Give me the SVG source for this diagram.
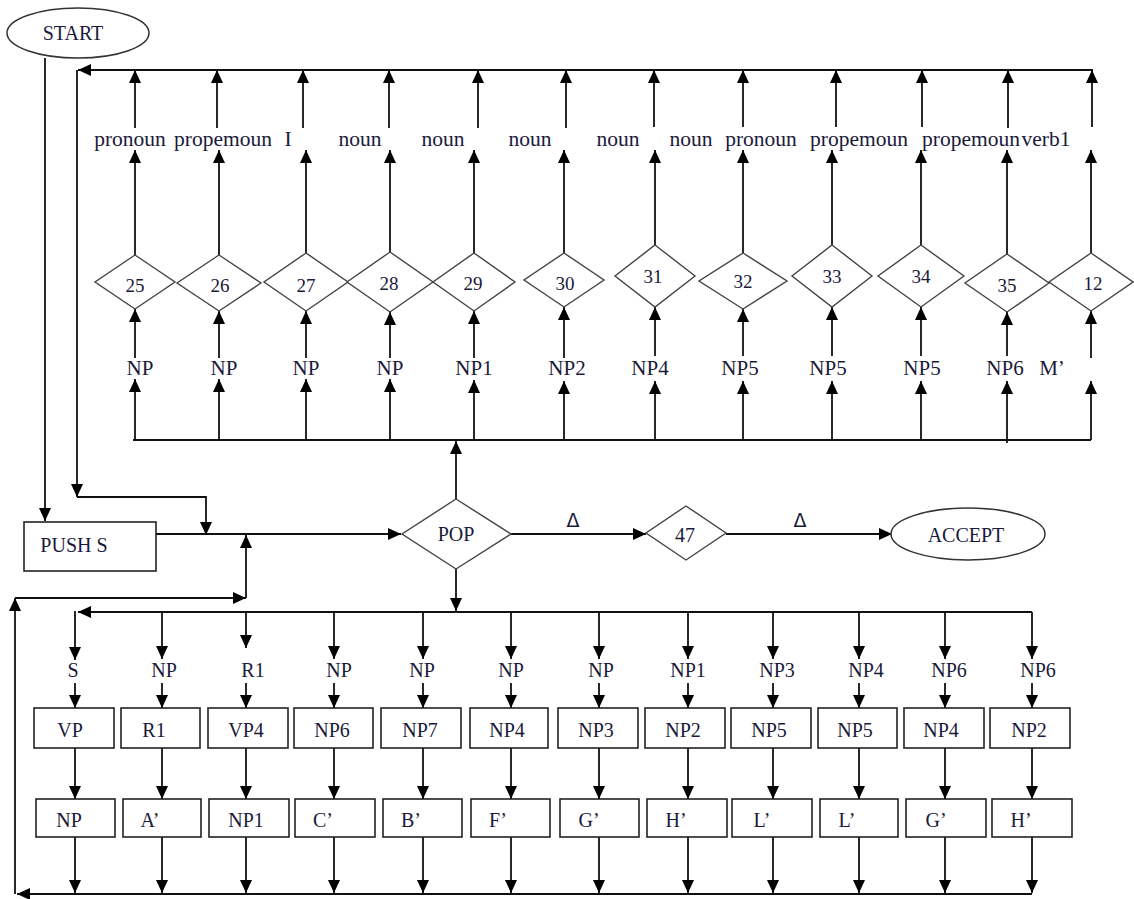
<svg xmlns="http://www.w3.org/2000/svg" width="1134" height="899" viewBox="0 0 1134 899">
<style>
text{font-family:"Liberation Serif","Times New Roman",serif;font-size:20px;fill:#1a1a3a;text-anchor:middle}
.num{font-size:19px}
.lw{font-size:21.5px}
.np{font-size:21px}
.dl{font-family:"DejaVu Sans","Liberation Sans",sans-serif;font-size:19px}
.dia{fill:#fff;stroke:#444;stroke-width:1.4}
.box{fill:#fff;stroke:#222;stroke-width:1.6}
.ell{fill:#fff;stroke:#333;stroke-width:1.5}
#connectors path{fill:none;stroke:#111;stroke-width:1.8}
.a{marker-end:url(#ah)}
</style>
<defs>
<marker id="ah" viewBox="0 0 13 12" markerWidth="13" markerHeight="12" refX="13" refY="6" orient="auto" markerUnits="userSpaceOnUse"><path d="M0,0 L13,6 L0,12 z" fill="#000"/></marker>
</defs>
<g id="connectors">
<path class="a" d="M45,58 V521"/>
<path class="a" d="M1093,70 H78"/>
<path class="a" d="M77,70 V497"/>
<path class="a" d="M77,497 H206 V535"/>
<path class="a" d="M156,534 H401"/>
<path class="a" d="M15,894 V598"/>
<path class="a" d="M15,598 H246"/>
<path class="a" d="M246,598 V535"/>
<path class="a" d="M511,534 H646"/>
<path class="a" d="M726,534 H892"/>
<path class="a" d="M456,499 V441"/>
<path d="M133,440 H1091"/>
<path class="a" d="M135,440 V379"/><path class="a" d="M219,440 V379"/><path class="a" d="M306,440 V379"/><path class="a" d="M390,440 V379"/><path class="a" d="M474,440 V380"/><path class="a" d="M564,440 V381"/><path class="a" d="M655,440 V381"/><path class="a" d="M743,440 V381"/><path class="a" d="M832,440 V381"/><path class="a" d="M921,440 V381"/><path class="a" d="M1007,443 V381"/><path class="a" d="M1091,440 V381"/>
<path class="a" d="M135,358 V309"/><path class="a" d="M219,358 V311"/><path class="a" d="M306,358 V311"/><path class="a" d="M390,358 V312"/><path class="a" d="M474,358 V311"/><path class="a" d="M564,358 V307"/><path class="a" d="M655,356 V307"/><path class="a" d="M743,356 V309"/><path class="a" d="M832,356 V307"/><path class="a" d="M921,356 V307"/><path class="a" d="M1007,356 V312"/><path class="a" d="M1091,358 V311"/>
<path class="a" d="M135,255 V150"/><path class="a" d="M219,255 V150"/><path class="a" d="M306,253 V150"/><path class="a" d="M390,252 V150"/><path class="a" d="M474,253 V150"/><path class="a" d="M564,253 V150"/><path class="a" d="M655,245 V150"/><path class="a" d="M743,253 V150"/><path class="a" d="M832,245 V150"/><path class="a" d="M921,245 V150"/><path class="a" d="M1007,254 V150"/><path class="a" d="M1091,253 V150"/>
<path class="a" d="M135,128 V70"/><path class="a" d="M217,128 V70"/><path class="a" d="M303,128 V70"/><path class="a" d="M389,128 V70"/><path class="a" d="M478,128 V70"/><path class="a" d="M566,128 V70"/><path class="a" d="M654,127 V70"/><path class="a" d="M743,127 V70"/><path class="a" d="M836,127 V70"/><path class="a" d="M922,127 V70"/><path class="a" d="M1008,128 V70"/><path class="a" d="M1092,127 V70"/>
<path class="a" d="M456,569 V611"/>
<path class="a" d="M1032,612 H78"/>
<path class="a" d="M75,611 V660"/><path class="a" d="M162,612 V659"/><path class="a" d="M246,613 V648"/><path class="a" d="M334,612 V659"/><path class="a" d="M423,612 V659"/><path class="a" d="M511,612 V659"/><path class="a" d="M599,612 V659"/><path class="a" d="M688,612 V659"/><path class="a" d="M773,612 V659"/><path class="a" d="M859,612 V659"/><path class="a" d="M945,612 V659"/><path class="a" d="M1032,612 V659"/>
<path class="a" d="M75,683 V708"/><path class="a" d="M162,683 V708"/><path class="a" d="M246,683 V708"/><path class="a" d="M334,683 V708"/><path class="a" d="M423,683 V708"/><path class="a" d="M511,683 V708"/><path class="a" d="M599,683 V708"/><path class="a" d="M688,683 V708"/><path class="a" d="M773,683 V708"/><path class="a" d="M859,683 V708"/><path class="a" d="M945,683 V708"/><path class="a" d="M1032,683 V708"/>
<path class="a" d="M75,748 V799"/><path class="a" d="M162,748 V799"/><path class="a" d="M246,748 V799"/><path class="a" d="M334,748 V799"/><path class="a" d="M423,748 V799"/><path class="a" d="M511,748 V799"/><path class="a" d="M599,748 V799"/><path class="a" d="M688,748 V799"/><path class="a" d="M773,748 V799"/><path class="a" d="M859,748 V799"/><path class="a" d="M945,748 V799"/><path class="a" d="M1032,748 V799"/>
<path class="a" d="M75,837 V893"/><path class="a" d="M162,837 V893"/><path class="a" d="M246,837 V893"/><path class="a" d="M334,837 V893"/><path class="a" d="M423,837 V893"/><path class="a" d="M511,837 V893"/><path class="a" d="M599,837 V893"/><path class="a" d="M688,837 V893"/><path class="a" d="M773,837 V893"/><path class="a" d="M859,837 V893"/><path class="a" d="M945,837 V893"/><path class="a" d="M1032,837 V893"/>
<path class="a" d="M1032,894 H17"/>
<text class="dl" x="573" y="527">Δ</text>
<text class="dl" x="800" y="527">Δ</text>
</g>
<g id="start"><ellipse class="ell" cx="78" cy="33" rx="71" ry="25"/><text x="73" y="40">START</text></g>
<g id="accept"><ellipse class="ell" cx="968" cy="534" rx="77" ry="26"/><text x="966" y="542">ACCEPT</text></g>
<g id="push"><rect class="box" x="24" y="522" width="132" height="49"/><text x="74" y="552">PUSH S</text></g>
<g id="pop"><polygon class="dia" points="456,499 511,534 456,569 402,534"/><text x="456" y="541">POP</text></g>
<g id="n47"><polygon class="dia" points="686,506 726,533 686,560 646,533"/><text x="685" y="542">47</text></g>
<g id="d25"><polygon class="dia" points="135,255 175,282 135,309 95,282"/><text class="num" x="135" y="292">25</text></g>
<g id="d26"><polygon class="dia" points="219,255 261,283 219,311 177,283"/><text class="num" x="220" y="292">26</text></g>
<g id="d27"><polygon class="dia" points="306,253 348,282 306,311 264,282"/><text class="num" x="306" y="292">27</text></g>
<g id="d28"><polygon class="dia" points="390,252 433,282 390,312 347,282"/><text class="num" x="389" y="290">28</text></g>
<g id="d29"><polygon class="dia" points="474,253 515,282 474,311 433,282"/><text class="num" x="473" y="290">29</text></g>
<g id="d30"><polygon class="dia" points="564,253 604,280 564,307 524,280"/><text class="num" x="565" y="290">30</text></g>
<g id="d31"><polygon class="dia" points="655,245 695,276 655,307 615,276"/><text class="num" x="653" y="283">31</text></g>
<g id="d32"><polygon class="dia" points="743,253 787,281 743,309 699,281"/><text class="num" x="743" y="288">32</text></g>
<g id="d33"><polygon class="dia" points="832,245 872,276 832,307 792,276"/><text class="num" x="832" y="283">33</text></g>
<g id="d34"><polygon class="dia" points="921,245 964,276 921,307 878,276"/><text class="num" x="921" y="283">34</text></g>
<g id="d35"><polygon class="dia" points="1007,254 1049,283 1007,312 965,283"/><text class="num" x="1007" y="292">35</text></g>
<g id="d12"><polygon class="dia" points="1091,253 1133,282 1091,311 1049,282"/><text class="num" x="1093" y="290">12</text></g>
<g id="top-labels">
<text class="lw" x="130" y="146">pronoun</text><text class="lw" x="223" y="146">propemoun</text><text class="lw" x="288" y="146">I</text><text class="lw" x="360" y="146">noun</text><text class="lw" x="443" y="146">noun</text><text class="lw" x="530" y="146">noun</text><text class="lw" x="618" y="146">noun</text><text class="lw" x="691" y="146">noun</text><text class="lw" x="761" y="146">pronoun</text><text class="lw" x="859" y="146">propemoun</text><text class="lw" x="971" y="146">propemoun</text><text class="lw" x="1046" y="146">verb1</text>
</g>
<g id="np-labels">
<text class="np" x="140" y="375">NP</text><text class="np" x="224" y="375">NP</text><text class="np" x="306" y="375">NP</text><text class="np" x="390" y="375">NP</text><text class="np" x="474" y="375">NP1</text><text class="np" x="567" y="375">NP2</text><text class="np" x="650" y="375">NP4</text><text class="np" x="740" y="375">NP5</text><text class="np" x="828" y="375">NP5</text><text class="np" x="922" y="375">NP5</text><text class="np" x="1005" y="375">NP6</text><text class="np" x="1052" y="375">M’</text>
</g>
<g id="bottom-labels">
<text x="73" y="677">S</text><text x="164" y="677">NP</text><text x="253" y="677">R1</text><text x="339" y="677">NP</text><text x="422" y="677">NP</text><text x="511" y="677">NP</text><text x="601" y="677">NP</text><text x="688" y="677">NP1</text><text x="777" y="677">NP3</text><text x="866" y="677">NP4</text><text x="949" y="677">NP6</text><text x="1038" y="677">NP6</text>
</g>
<g id="row1">
<g id="b1"><rect class="box" x="34" y="708" width="80" height="40"/><text x="70" y="737">VP</text></g>
<g id="b2"><rect class="box" x="121" y="708" width="79" height="40"/><text x="154" y="737">R1</text></g>
<g id="b3"><rect class="box" x="208" y="708" width="80" height="40"/><text x="246" y="737">VP4</text></g>
<g id="b4"><rect class="box" x="294" y="708" width="79" height="40"/><text x="332" y="737">NP6</text></g>
<g id="b5"><rect class="box" x="381" y="708" width="80" height="40"/><text x="420" y="737">NP7</text></g>
<g id="b6"><rect class="box" x="470" y="708" width="78" height="40"/><text x="507" y="737">NP4</text></g>
<g id="b7"><rect class="box" x="558" y="708" width="80" height="40"/><text x="596" y="737">NP3</text></g>
<g id="b8"><rect class="box" x="645" y="708" width="80" height="40"/><text x="683" y="737">NP2</text></g>
<g id="b9"><rect class="box" x="731" y="708" width="80" height="40"/><text x="769" y="737">NP5</text></g>
<g id="b10"><rect class="box" x="818" y="708" width="79" height="40"/><text x="855" y="737">NP5</text></g>
<g id="b11"><rect class="box" x="904" y="708" width="80" height="40"/><text x="941" y="737">NP4</text></g>
<g id="b12"><rect class="box" x="990" y="708" width="80" height="40"/><text x="1029" y="737">NP2</text></g>
</g>
<g id="row2">
<g id="c1"><rect class="box" x="36" y="799" width="79" height="38"/><text x="69" y="827">NP</text></g>
<g id="c2"><rect class="box" x="123" y="799" width="78" height="38"/><text x="150" y="827">A’</text></g>
<g id="c3"><rect class="box" x="209" y="799" width="80" height="38"/><text x="246" y="827">NP1</text></g>
<g id="c4"><rect class="box" x="295" y="799" width="80" height="38"/><text x="323" y="827">C’</text></g>
<g id="c5"><rect class="box" x="383" y="799" width="79" height="38"/><text x="411" y="827">B’</text></g>
<g id="c6"><rect class="box" x="471" y="799" width="79" height="38"/><text x="498" y="827">F’</text></g>
<g id="c7"><rect class="box" x="560" y="799" width="79" height="38"/><text x="589" y="827">G’</text></g>
<g id="c8"><rect class="box" x="647" y="799" width="80" height="38"/><text x="676" y="827">H’</text></g>
<g id="c9"><rect class="box" x="732" y="799" width="80" height="38"/><text x="762" y="827">L’</text></g>
<g id="c10"><rect class="box" x="820" y="799" width="78" height="38"/><text x="847" y="827">L’</text></g>
<g id="c11"><rect class="box" x="906" y="799" width="80" height="38"/><text x="936" y="827">G’</text></g>
<g id="c12"><rect class="box" x="992" y="799" width="80" height="38"/><text x="1021" y="827">H’</text></g>
</g>
</svg>
